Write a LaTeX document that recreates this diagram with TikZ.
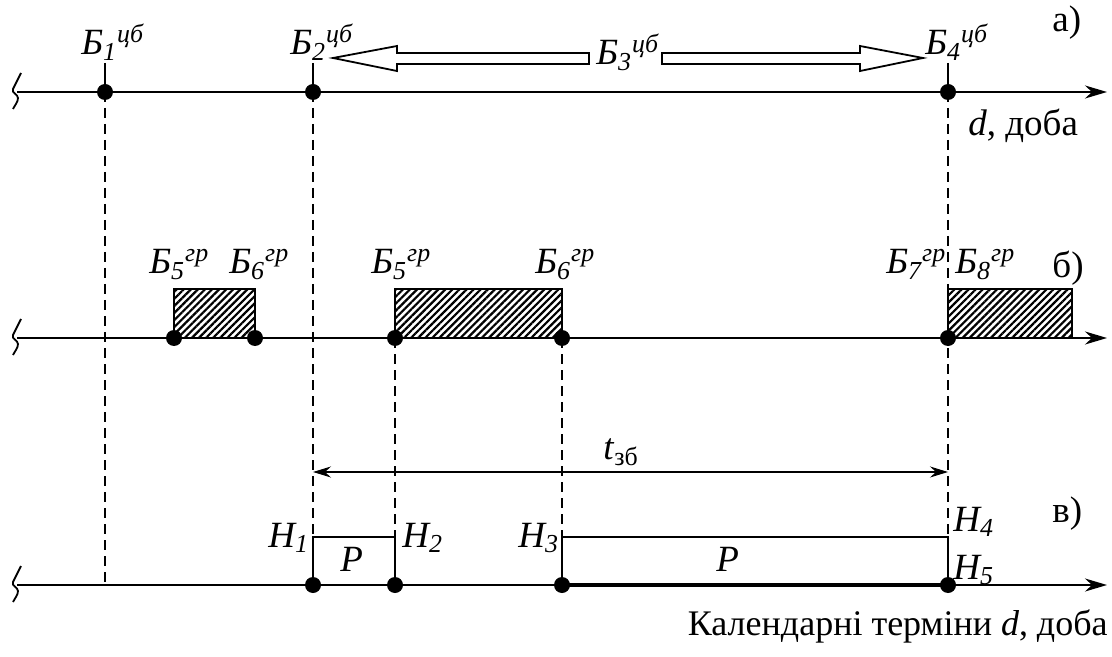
\documentclass[tikz,border=0pt]{standalone}
\usepackage{fontspec}
\setmainfont{Liberation Serif}
\usetikzlibrary{arrows.meta,patterns.meta}
\newcommand\Blab[2]{\textit{Б\textsubscript{#1}\textsuperscript{#2}}}
\newcommand\Hlab[1]{\textit{Н\textsubscript{#1}}}
\begin{document}
\begin{tikzpicture}[x=0.5pt,y=-0.5pt,
  axisline/.style={line width=1pt,-{Stealth[length=11pt,width=6.5pt,inset=3.5pt]}},
  dot/.style={circle,fill=black,inner sep=0pt,minimum size=8pt},
  guide/.style={line width=0.8pt,dash pattern=on 5pt off 3pt},
  tick/.style={line width=1pt},
  lbl/.style={anchor=base west,inner sep=0pt,font=\fontsize{18.5}{20}\selectfont},
  hatch/.style={draw=black,line width=0.9pt,pattern={Lines[angle=45,distance=2.5pt,line width=1.1pt]}},
  hollow/.style={draw=black,line width=0.9pt,fill=white},
  brk/.style={line width=0.9pt},
  dim/.style={line width=0.7pt,{Stealth[length=9pt,width=5.5pt,inset=3pt]}-{Stealth[length=9pt,width=5.5pt,inset=3pt]}},
  rect/.style={line width=0.9pt}
]
\useasboundingbox (0,0) rectangle (1112,657);

% ---------- row a ----------
\coordinate (aS) at (17,92);
\coordinate (aE) at (1107,92);
\draw[axisline] (aS) -- (aE);
\draw[brk] (21,73) -- (13,89) .. controls (11,93) and (18,94) .. (18,98) .. controls (18,102) and (15,105) .. (13,109);
\node[dot] (a1) at (105,92) {};
\node[dot] (a2) at (313,92) {};
\node[dot] (a4) at (948,92) {};
\coordinate (t1) at (105,63);
\coordinate (t2) at (313,63);
\coordinate (t4) at (948,63);
\draw[tick] (t1) -- (a1.center);
\draw[tick] (t2) -- (a2.center);
\draw[tick] (t4) -- (a4.center);
\node[lbl] (Lb1) at (81,55) {\Blab{1}{цб}};
\node[lbl] (Lb2) at (290,55) {\Blab{2}{цб}};
\node[lbl] (Lb3) at (596,65) {\Blab{3}{цб}};
\node[lbl] (Lb4) at (925,55) {\Blab{4}{цб}};
% hollow arrows
\draw[hollow] (333,58) -- (397,46) -- (397,53) -- (589,53) -- (589,64) -- (397,64) -- (397,71) -- cycle;
\draw[hollow] (923,58) -- (860,46) -- (860,53) -- (662,53) -- (662,64) -- (860,64) -- (860,71) -- cycle;
\node[lbl] (la) at (1052,32) {а)};
\node[lbl] (ld) at (968,136) {\textit{d}, доба};

% ---------- row b ----------
\coordinate (bS) at (17,338);
\coordinate (bE) at (1107,338);
\draw[hatch] (174,289) rectangle (255,338);
\draw[hatch] (395,289) rectangle (562,338);
\draw[hatch] (948,289) rectangle (1072,338);
\draw[axisline] (bS) -- (bE);
\draw[brk] (21,319) -- (13,335) .. controls (11,339) and (18,340) .. (18,344) .. controls (18,348) and (15,351) .. (13,355);
\node[dot] (b1) at (174,338) {};
\node[dot] (b2) at (255,338) {};
\node[dot] (b3) at (395,338) {};
\node[dot] (b4) at (562,338) {};
\node[dot] (b5) at (948,338) {};
\node[lbl] (Lb5a) at (149,274) {\Blab{5}{гр}};
\node[lbl] (Lb6a) at (229,274) {\Blab{6}{гр}};
\node[lbl] (Lb5b) at (371,274) {\Blab{5}{гр}};
\node[lbl] (Lb6b) at (535,274) {\Blab{6}{гр}};
\node[lbl] (Lb7) at (886,274) {\Blab{7}{гр}};
\node[lbl] (Lb8) at (955,274) {\Blab{8}{гр}};
\node[lbl] (lb) at (1052,278) {б)};

% ---------- row c ----------
\coordinate (cS) at (17,585);
\coordinate (cE) at (1107,585);
\coordinate (c0) at (105,585);
\draw[axisline] (cS) -- (cE);
\draw[brk] (21,566) -- (13,582) .. controls (11,586) and (18,587) .. (18,591) .. controls (18,595) and (15,598) .. (13,602);
\coordinate (r1) at (313,537);
\coordinate (r2) at (395,537);
\coordinate (r3) at (562,537);
\coordinate (r4) at (948,537);
\node[dot] (c1) at (313,585) {};
\node[dot] (c2) at (395,585) {};
\node[dot] (c3) at (562,585) {};
\node[dot] (c4) at (948,585) {};
\draw[rect] (c1.center) -- (r1) -- (r2) -- (c2.center);
\draw[rect] (c3.center) -- (r3) -- (r4) -- (c4.center);
\draw[line width=2pt] (c3.center) -- (c4.center);
\coordinate (d1) at (313,472);
\coordinate (d2) at (948,472);
\draw[dim] (d1) -- (d2);
\node[lbl] (lt) at (603,459) {\textit{t}\textsubscript{зб}};
\node[lbl] (P1) at (340,571) {\textit{Р}};
\node[lbl] (P2) at (716,571) {\textit{Р}};
\node[lbl] (H1) at (268,547) {\Hlab{1}};
\node[lbl] (H2) at (402,547) {\Hlab{2}};
\node[lbl] (H3) at (518,547) {\Hlab{3}};
\node[lbl] (H4) at (953,531) {\Hlab{4}};
\node[lbl] (H5) at (953,579) {\Hlab{5}};
\node[lbl] (lc) at (1052,522) {в)};
\node[anchor=base east,inner sep=0pt,font=\fontsize{18}{20}\selectfont] (lcal) at (1108,635) {Календарні терміни \textit{d}, доба};

% ---------- guides ----------
\draw[guide] (a1.center) -- (c0);
\draw[guide] (a2.center) -- (c1.center);
\draw[guide] (a4.center) -- (c4.center);
\draw[guide] (b3.center) -- (c2.center);
\draw[guide] (b4.center) -- (c3.center);
\end{tikzpicture}
\end{document}
